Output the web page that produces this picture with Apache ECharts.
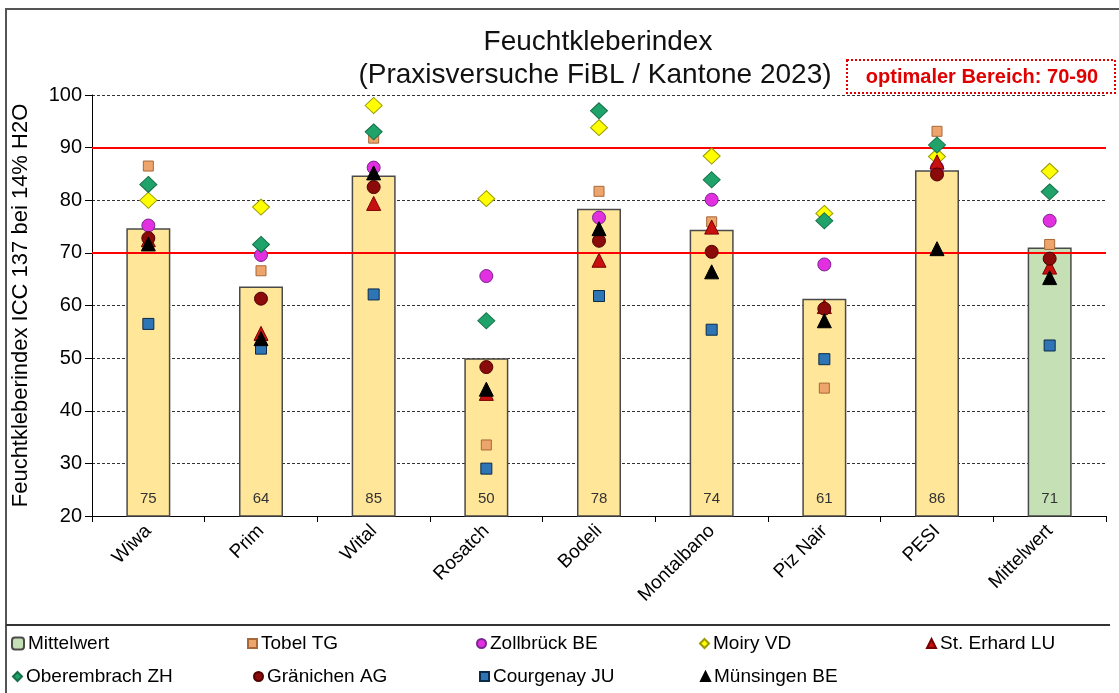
<!DOCTYPE html>
<html>
<head>
<meta charset="utf-8">
<script src="https://cdn.jsdelivr.net/npm/echarts@6/dist/echarts.min.js"></script>
<style>
html,body{margin:0;padding:0;background:#fff;}
#chart{width:1119px;height:693px;}
</style>
</head>
<body>
<div id="chart"></div>
<script>
const categories = ['Wiwa','Prim','Wital','Rosatch','Bodeli','Montalbano','Piz Nair','PESI','Mittelwert'];
const mittelwert = [74.7, 63.6, 84.7, 50.0, 78.4, 74.4, 61.3, 85.7, 71.0];
const tobelTG = [86.5, 66.6, 91.8, 33.5, 81.7, 75.9, 44.3, 93.1, 71.6];
const zollbrueckBE = [75.2, 69.6, 86.2, 65.6, 76.7, 80.1, 67.8, 86.2, 76.1];
const moiryVD = [80.0, 78.7, 98.0, 80.3, 93.8, 88.4, 77.5, 88.3, 85.5];
const stErhardLU = [72.5, 54.7, 79.4, 43.3, 68.6, 74.9, 59.8, 87.3, 67.3];
const oberembrachZH = [83.0, 71.6, 93.0, 57.1, 97.0, 83.9, 76.1, 90.5, 81.6];
const graenichenAG = [72.8, 61.3, 82.5, 48.3, 72.3, 70.2, 59.4, 84.9, 68.9];
const courgenayJU = [56.5, 51.8, 62.1, 29.0, 61.8, 55.4, 49.8, null, 52.4];
const muensingenBE = [71.7, 53.7, 85.2, 44.1, 74.6, 66.4, 57.1, 70.8, 65.3];
const optimalRange = [70, 90];
const yTicks = {min: 20, max: 100, interval: 10};

const FONT = '"Liberation Sans", Arial, sans-serif';
const chart = echarts.init(document.getElementById('chart'));

function scatter(name, data, symbol, size, color, border) {
  return {
    name: name, type: 'scatter', data: data, symbol: symbol, symbolSize: size, z: 5,
    itemStyle: {color: color, borderColor: border, borderWidth: 1, opacity: 1}
  };
}

const barData = mittelwert.map((v, i) => ({
  value: v,
  itemStyle: {color: i === mittelwert.length - 1 ? '#C5E0B4' : '#FFE699'}
}));

const legendPos = [
  ['Mittelwert', 11, 634], ['Tobel TG', 247, 634], ['Zollbrück BE', 476, 634], ['Moiry VD', 699, 634], ['St. Erhard LU', 926, 634],
  ['Oberembrach ZH', 12, 667], ['Gränichen AG', 253, 667], ['Courgenay JU', 479, 667], ['Münsingen BE', 700, 667]
];

const option = {
  animation: false,
  backgroundColor: '#fff',
  textStyle: {fontFamily: FONT},
  grid: {left: 92, right: 13, top: 95, bottom: 177},
  legend: legendPos.map(p => ({
    data: [p[0]], left: p[1], top: p[2], padding: 0, selectedMode: false,
    itemWidth: p[0] === 'Mittelwert' ? 12 : 9, itemHeight: p[0] === 'Mittelwert' ? 12 : 9, itemGap: 4,
    textStyle: {fontSize: 19, color: '#000', fontFamily: FONT, padding: [0, 0, 0, -1]}
  })),
  xAxis: {
    type: 'category', data: categories, boundaryGap: true,
    axisLine: {lineStyle: {color: '#000', width: 1}},
    axisTick: {show: true, length: 6, lineStyle: {color: '#000'}},
    axisLabel: {rotate: 45, fontSize: 19, color: '#000', margin: 12, fontFamily: FONT}
  },
  yAxis: {
    type: 'value', min: yTicks.min, max: yTicks.max, interval: yTicks.interval,
    name: 'Feuchtkleberindex ICC 137 bei 14% H2O', nameLocation: 'middle', nameGap: 60,
    nameTextStyle: {fontSize: 22, color: '#000', fontFamily: FONT},
    axisLine: {show: true, lineStyle: {color: '#000', width: 1}},
    axisTick: {show: true, length: 7, lineStyle: {color: '#000'}},
    axisLabel: {fontSize: 20, color: '#000', margin: 10, fontFamily: FONT},
    splitLine: {show: true, lineStyle: {color: '#333', type: [3, 2], width: 1}}
  },
  series: [
    {
      name: 'Mittelwert', type: 'bar', data: barData, barWidth: 44, z: 2,
      itemStyle: {color: '#C5E0B4', borderColor: '#4a4a4a', borderWidth: 1.5},
      label: {show: true, position: 'insideBottom', distance: 10, fontSize: 15, color: '#333', fontFamily: FONT,
        formatter: p => Math.round(p.value)},
      markLine: {
        silent: true, symbol: ['none', 'none'], z: 4,
        label: {show: false},
        lineStyle: {color: '#FF0000', width: 2, type: 'solid'},
        data: optimalRange.map(v => ({yAxis: v}))
      }
    },
    scatter('Tobel TG', tobelTG, 'rect', 10, '#EDA56B', '#A8683A'),
    scatter('Zollbrück BE', zollbrueckBE, 'circle', 13, '#E22FE0', '#7A2590'),
    scatter('Moiry VD', moiryVD, 'diamond', [17, 16], '#FFFF00', '#9A9A00'),
    scatter('St. Erhard LU', stErhardLU, 'triangle', 14, '#C81010', '#7A0000'),
    scatter('Oberembrach ZH', oberembrachZH, 'diamond', [17, 16], '#20A36A', '#157048'),
    scatter('Gränichen AG', graenichenAG, 'circle', 13, '#8B0A0A', '#500000'),
    scatter('Courgenay JU', courgenayJU, 'rect', 11, '#2E75B6', '#0B2A48'),
    scatter('Münsingen BE', muensingenBE, 'triangle', 14, '#000000', '#000000')
  ],
  graphic: [
    {type: 'rect', shape: {x: 6, y: 9, width: 1125, height: 700}, style: {fill: 'none', stroke: '#555', lineWidth: 2}, silent: true, z: -1},
    {type: 'line', shape: {x1: 6, y1: 625, x2: 1110, y2: 625}, style: {stroke: '#333', lineWidth: 2}, silent: true},
    {type: 'text', x: 598, y: 42, style: {text: 'Feuchtkleberindex', font: '28px ' + FONT, fill: '#111', textAlign: 'center', textVerticalAlign: 'middle'}},
    {type: 'text', x: 595, y: 75, style: {text: '(Praxisversuche FiBL / Kantone 2023)', font: '28px ' + FONT, fill: '#111', textAlign: 'center', textVerticalAlign: 'middle'}},
    {type: 'rect', shape: {x: 847, y: 60, width: 268, height: 33}, style: {fill: '#fff', stroke: '#E00000', lineWidth: 2, lineDash: [2, 2]}},
    {type: 'text', x: 982, y: 77, style: {text: 'optimaler Bereich: 70-90', font: 'bold 20px ' + FONT, fill: '#E00000', textAlign: 'center', textVerticalAlign: 'middle'}}
  ]
};
chart.setOption(option);
</script>
</body>
</html>
